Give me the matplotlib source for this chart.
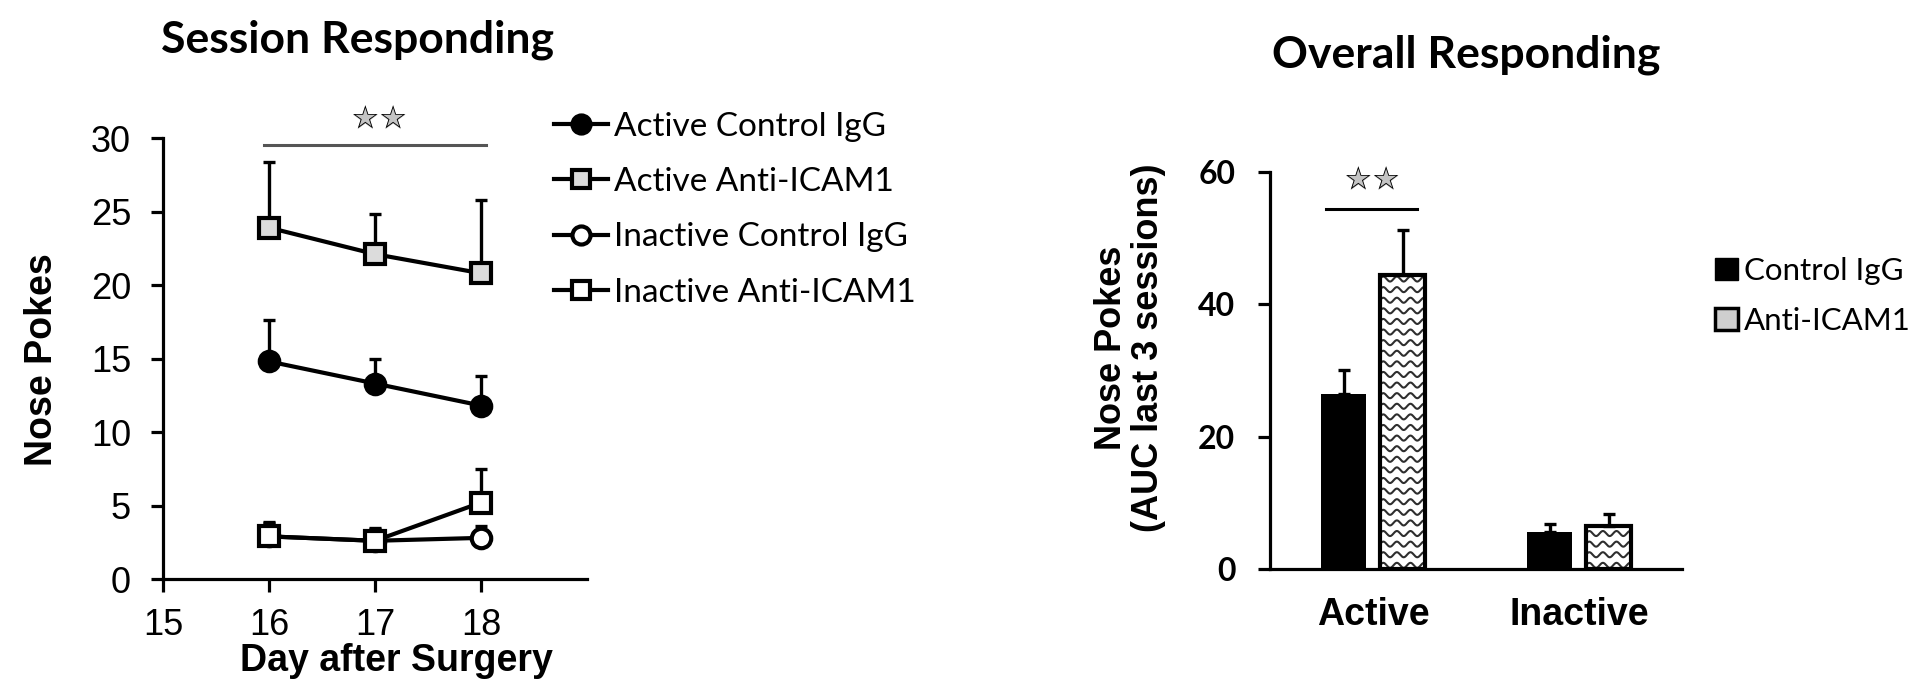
import matplotlib
matplotlib.use("Agg")
import matplotlib.pyplot as plt
import numpy as np
from matplotlib.lines import Line2D
from matplotlib.patches import Patch

plt.rcParams["font.family"] = ["Liberation Sans", "DejaVu Sans"]

# --- data: session responding ---
days = [16, 17, 18]
active_ctrl = [14.8, 13.3, 11.8]
active_ctrl_err = [2.8, 1.7, 2.0]
active_anti = [23.9, 22.1, 20.8]
active_anti_err = [4.5, 2.7, 5.0]
inactive_ctrl = [2.9, 2.6, 2.8]
inactive_ctrl_err = [1.0, 0.9, 0.8]
inactive_anti = [2.9, 2.6, 5.2]
inactive_anti_err = [0.9, 0.8, 2.3]

# --- data: overall responding ---
groups = ["Active", "Inactive"]
ctrl_auc = [26.5, 5.6]
ctrl_auc_err = [3.5, 1.3]
anti_auc = [44.4, 6.6]
anti_auc_err = [6.8, 1.8]

CAL = ["Lato", "DejaVu Sans"]
LW = 3.0


def stars(ax, x, y):
    # grey-filled stars with a black outline
    ax.text(x, y, "★★", ha="center", va="center", fontsize=23,
            color="#c4c4c4", family=["DejaVu Sans"])
    ax.text(x, y, "☆☆", ha="center", va="center", fontsize=23,
            color="black", family=["DejaVu Sans"])


fig = plt.figure(figsize=(19.22, 6.88), dpi=100)

# ---------------- left panel ----------------
ax1 = fig.add_axes([0.0848, 0.1584, 0.2206, 0.641])
series = [
    (active_ctrl, active_ctrl_err, "o", "black", "Active Control IgG"),
    (active_anti, active_anti_err, "s", "#dcdcdc", "Active Anti-ICAM1"),
    (inactive_ctrl, inactive_ctrl_err, "o", "white", "Inactive Control IgG"),
    (inactive_anti, inactive_anti_err, "s", "white", "Inactive Anti-ICAM1"),
]
handles = []
for i, (vals, err, mk, fc, lab) in enumerate(series):
    ax1.errorbar(days, vals, yerr=[np.zeros(len(err)), err], fmt="none",
                 ecolor="black", elinewidth=2.4, capsize=4.5, capthick=2.4,
                 zorder=2 + i)
    ax1.plot(days, vals, color="black", lw=LW, marker=mk, markersize=14,
             markerfacecolor=fc, markeredgecolor="black", markeredgewidth=3,
             zorder=2 + i)
    handles.append(Line2D([], [], color="black", lw=LW, marker=mk, markersize=13,
                          markerfacecolor=fc, markeredgecolor="black",
                          markeredgewidth=3, label=lab))

ax1.set_xlim(15, 19)
ax1.set_ylim(0, 30)
ax1.set_xticks([15, 16, 17, 18])
ax1.set_yticks(range(0, 31, 5))
for s in ["top", "right"]:
    ax1.spines[s].set_visible(False)
for s in ["left", "bottom"]:
    ax1.spines[s].set_linewidth(2.3)
ax1.tick_params(axis="y", direction="out", length=9, width=2.3, pad=14, labelsize=26)
ax1.tick_params(axis="x", direction="out", length=9, width=2.3, pad=12, labelsize=26)

ax1.plot([15.95, 18.05], [29.5, 29.5], color="#555555", lw=2.2, clip_on=False)
stars(ax1, 17.04, 31.2)

fig.text(0.186, 0.942, "Session Responding", ha="center", va="center",
         fontsize=32, fontweight="bold", family=CAL)
fig.text(0.0218, 0.478, "Nose Pokes", ha="center", va="center", rotation=90,
         fontsize=27, fontweight="bold")
fig.text(0.2065, 0.039, "Day after Surgery", ha="center", va="center",
         fontsize=27, fontweight="bold")

fig.legend(handles=handles, loc="upper left", bbox_to_anchor=(0.2815, 0.857),
           frameon=False, prop={"family": CAL, "size": 24}, handlelength=1.6,
           handletextpad=0.2, labelspacing=0.76, borderaxespad=0)

# ---------------- right panel ----------------
ax2 = fig.add_axes([0.6608, 0.1725, 0.2144, 0.578])
x = np.arange(len(groups))
w = 0.22
off = 0.143
ax2.bar(x - off, ctrl_auc, w, color="black", zorder=3)
ax2.errorbar(x - off, ctrl_auc, yerr=[np.zeros(2), ctrl_auc_err], fmt="none",
             ecolor="black", elinewidth=2.4, capsize=4.5, capthick=2.4, zorder=2)
anti_bars = ax2.bar(x + off, anti_auc, w, facecolor="none", edgecolor="black",
                    linewidth=3, zorder=4)
ax2.errorbar(x + off, anti_auc, yerr=[np.zeros(2), anti_auc_err], fmt="none",
             ecolor="black", elinewidth=2.4, capsize=4.5, capthick=2.4, zorder=2)

# wavy fill texture inside the Anti-ICAM1 bars
for b in anti_bars:
    x0, bw, h = b.get_x(), b.get_width(), b.get_height()
    xs = np.linspace(x0, x0 + bw, 200)
    for y0 in np.arange(0.6, h + 1.6, 1.6):
        ln, = ax2.plot(xs, y0 + 0.38 * np.sin(2 * np.pi * (xs - x0) / 0.066),
                       color="#2e2e2e", lw=1.5, zorder=3)
        ln.set_clip_path(b)

ax2.set_xlim(-0.5, 1.5)
ax2.set_ylim(0, 60)
ax2.set_yticks([0, 20, 40, 60])
ax2.set_xticks(x)
ax2.set_xticklabels(groups, fontsize=27, fontweight="bold")
for s in ["top", "right"]:
    ax2.spines[s].set_visible(False)
for s in ["left", "bottom"]:
    ax2.spines[s].set_linewidth(2.3)
ax2.tick_params(axis="y", direction="out", length=9, width=2.3, pad=16)
ax2.tick_params(axis="x", length=0, pad=20)
for t in ax2.get_yticklabels():
    t.set_fontfamily(CAL)
    t.set_fontweight("bold")
    t.set_fontsize(23)

ax2.plot([-0.227, 0.211], [54.4, 54.4], color="black", lw=2.2, clip_on=False)
stars(ax2, 0.0, 58.6)

fig.text(0.763, 0.92, "Overall Responding", ha="center", va="center",
         fontsize=32, fontweight="bold", family=CAL)
fig.text(0.588, 0.494, "Nose Pokes\n(AUC last 3 sessions)", ha="center",
         va="center", rotation=90, fontsize=26, fontweight="bold",
         multialignment="center", linespacing=1.05)

leg_handles = [
    Patch(facecolor="black", edgecolor="black", label="Control IgG"),
    Patch(facecolor="#cfcfcf", edgecolor="black", linewidth=2.5, label="Anti-ICAM1"),
]
fig.legend(handles=leg_handles, loc="upper left", bbox_to_anchor=(0.886, 0.645),
           frameon=False, prop={"family": CAL, "size": 22.5}, handlelength=0.72,
           handleheight=0.72, handletextpad=0.2, labelspacing=0.72, borderaxespad=0)

fig.savefig("out.png", dpi=100)
